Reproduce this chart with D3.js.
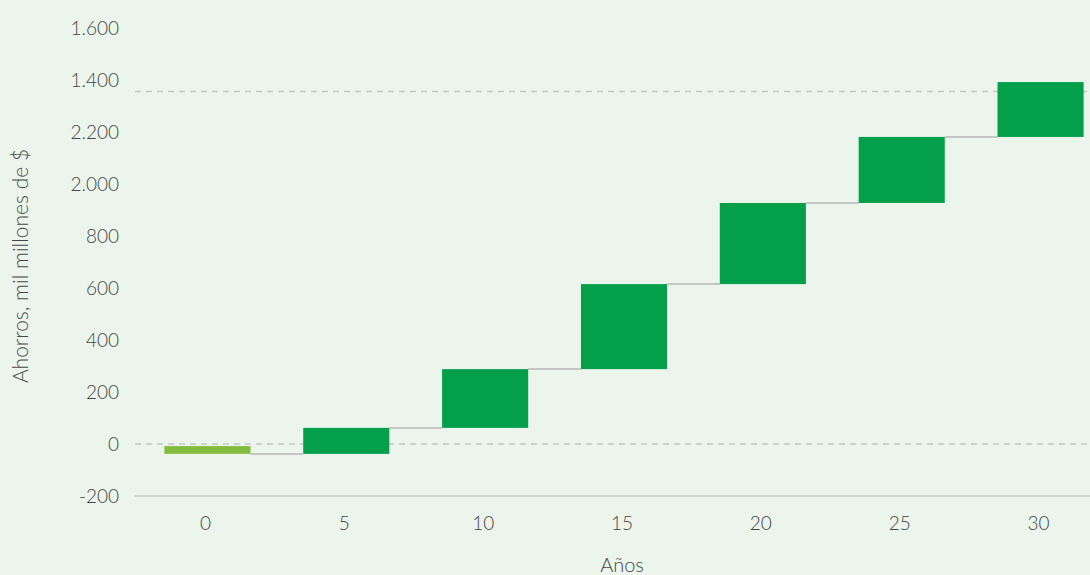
<!DOCTYPE html>
<html>
<head>
<meta charset="utf-8">
<script src="https://cdn.jsdelivr.net/npm/d3@7"></script>
<style>
  html, body { margin: 0; padding: 0; background: #ebf5ec; }
  svg { display: block; font-family: Lato, "Open Sans", sans-serif; font-weight: 300; }
</style>
</head>
<body>
<div id="chart"></div>
<script>
// data
const years = ['0', '5', '10', '15', '20', '25', '30'];
// cumulative savings levels; bar i goes from levels[i] to levels[i + 1]
const levels = [-8, -38, 62, 288, 615, 927, 1181, 1392];
const yTickValues = [-200, 0, 200, 400, 600, 800, 1000, 1200, 1400, 1600];
const yTickLabels = ['-200', '0', '200', '400', '600', '800', '2.000', '2.200', '1.400', '1.600'];
const refLines = [0, 1356];

const width = 1090;
const height = 575;

const svg = d3.select('#chart')
  .append('svg')
  .attr('width', width)
  .attr('height', height);

const x = d3.scaleBand()
  .domain(years)
  .range([138, 1110])
  .paddingInner(0.38)
  .paddingOuter(0.19);

const y = d3.scaleLinear()
  .domain([-200, 1600])
  .range([496, 28]);

// y axis (labels only)
const yAxis = svg.append('g')
  .attr('transform', 'translate(119,0)')
  .call(d3.axisLeft(y)
    .tickValues(yTickValues)
    .tickSize(0)
    .tickPadding(0)
    .tickFormat((d, i) => yTickLabels[i]));
yAxis.select('.domain').remove();
yAxis.selectAll('text')
  .attr('fill', '#454545')
  .style('font-size', '19px')
  .style('font-family', 'Lato, "Open Sans", sans-serif');

// dashed reference lines
svg.selectAll('line.ref')
  .data(refLines)
  .enter()
  .append('line')
  .attr('class', 'ref')
  .attr('x1', 135)
  .attr('x2', width)
  .attr('y1', (d) => y(d))
  .attr('y2', (d) => y(d))
  .attr('stroke', '#c3c7c3')
  .attr('stroke-width', 1.5)
  .attr('stroke-dasharray', '6,5');

// bottom axis line
svg.append('line')
  .attr('x1', 135)
  .attr('x2', width)
  .attr('y1', y(-200))
  .attr('y2', y(-200))
  .attr('stroke', '#c8cac8')
  .attr('stroke-width', 1.5);

const steps = years.map((yr, i) => ({ yr, from: levels[i], to: levels[i + 1] }));

// connectors between bars
svg.selectAll('line.conn')
  .data(steps.slice(0, -1))
  .enter()
  .append('line')
  .attr('class', 'conn')
  .attr('x1', (d) => x(d.yr) + x.bandwidth())
  .attr('x2', (d, i) => x(years[i + 1]))
  .attr('y1', (d) => y(d.to))
  .attr('y2', (d) => y(d.to))
  .attr('stroke', '#c4c6c4')
  .attr('stroke-width', 2);

// bars
svg.selectAll('rect.bar')
  .data(steps)
  .enter()
  .append('rect')
  .attr('class', 'bar')
  .attr('x', (d) => x(d.yr))
  .attr('width', x.bandwidth())
  .attr('y', (d) => y(Math.max(d.from, d.to)))
  .attr('height', (d) => Math.abs(y(d.from) - y(d.to)))
  .attr('fill', (d, i) => (i === 0 ? '#84bd3e' : '#039f4b'));

// x axis labels
const xAxis = svg.append('g')
  .attr('transform', 'translate(-2,516)')
  .call(d3.axisBottom(x).tickSize(0).tickPadding(0));
xAxis.select('.domain').remove();
xAxis.selectAll('text')
  .attr('fill', '#454545')
  .style('font-size', '19px')
  .style('font-family', 'Lato, "Open Sans", sans-serif');

// axis titles
svg.append('text')
  .attr('x', 622)
  .attr('y', 572)
  .attr('text-anchor', 'middle')
  .attr('fill', '#454545')
  .style('font-size', '20px')
  .text('Años');

svg.append('text')
  .attr('transform', 'translate(28,266) rotate(-90)')
  .attr('text-anchor', 'middle')
  .attr('fill', '#454545')
  .style('font-size', '21px')
  .text('Ahorros, mil millones de $');
</script>
</body>
</html>
